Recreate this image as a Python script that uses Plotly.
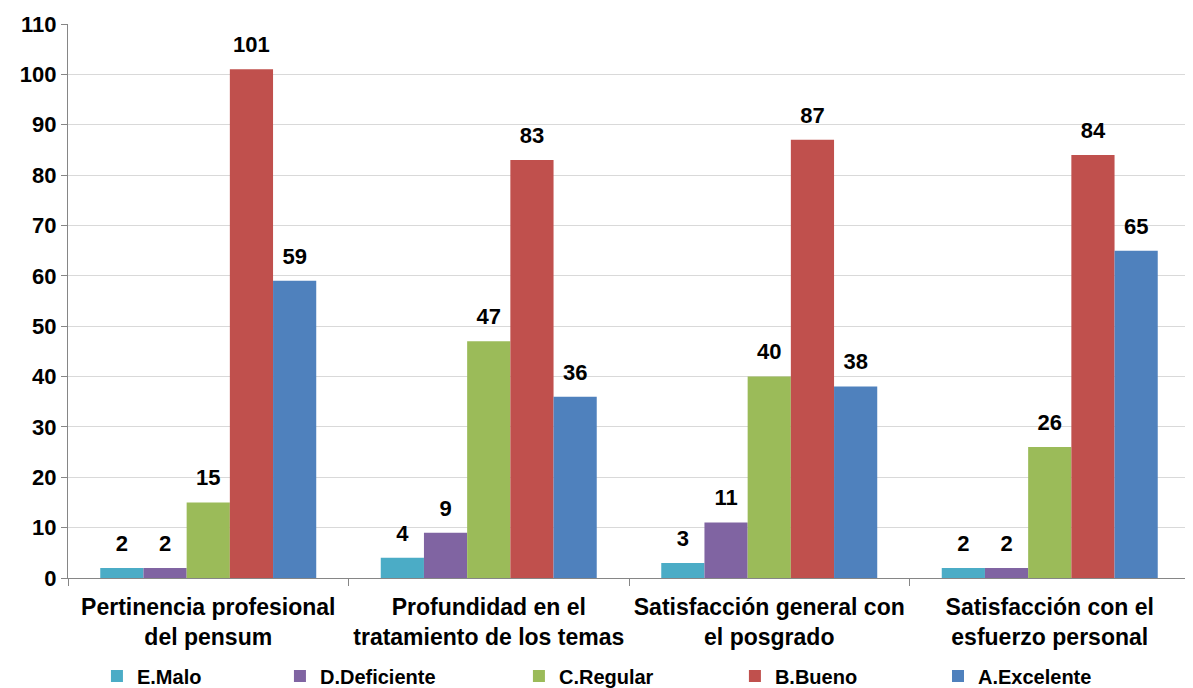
import plotly.graph_objects as go

categories = ["Pertinencia profesional<br>del pensum",
              "Profundidad en el<br>tratamiento de los temas",
              "Satisfacción general con<br>el posgrado",
              "Satisfacción con el<br>esfuerzo personal"]
series_names = ["E.Malo", "D.Deficiente", "C.Regular", "B.Bueno", "A.Excelente"]
e_malo = [2, 4, 3, 2]
d_deficiente = [2, 9, 11, 2]
c_regular = [15, 47, 40, 26]
b_bueno = [101, 83, 87, 84]
a_excelente = [59, 36, 38, 65]
colors = ["#4bacc6", "#8064a2", "#9bbb59", "#c0504d", "#4f81bd"]
y_ticks = list(range(0, 111, 10))
# horizontal anchor of each legend entry (fraction of plot width)
legend_x = [0.0258, 0.1889, 0.4019, 0.5944, 0.7754]

FONT = "Liberation Sans, Arial, sans-serif"

fig = go.Figure()
for i, (name, vals, col) in enumerate(zip(series_names,
                           [e_malo, d_deficiente, c_regular, b_bueno, a_excelente],
                           colors)):
    lg = "legend" if i == 0 else f"legend{i+1}"
    fig.add_trace(go.Bar(
        name=f"<b>{name}</b>", x=categories, y=vals, marker_color=col,
        marker_line_width=0, offsetgroup=name, alignmentgroup="g",
        legend=lg, hoverinfo="x+y+name",
    ))
    fig.add_trace(go.Scatter(
        x=categories, y=vals, mode="markers+text", offsetgroup=name, alignmentgroup="g",
        marker=dict(size=17, opacity=0, color=col),
        text=[f"<b>{v}</b>" for v in vals], textposition="top center",
        textfont=dict(family=FONT, size=22, color="black"),
        cliponaxis=False, showlegend=False, hoverinfo="skip",
    ))

legends = {}
for i, lx in enumerate(legend_x):
    key = "legend" if i == 0 else f"legend{i+1}"
    legends[key] = dict(orientation="h", x=lx, xanchor="left", y=-0.177, yanchor="middle",
                        font=dict(family=FONT, size=20, color="black"),
                        itemwidth=30, bgcolor="rgba(0,0,0,0)", borderwidth=0)

# page body has an 8px default margin, so the figure is sized to fit the window
fig.update_layout(
    width=1185, height=680,
    margin=dict(l=60, r=3, t=16, b=110, autoexpand=False),
    paper_bgcolor="white", plot_bgcolor="white",
    barmode="group", bargap=0.23, bargroupgap=0,
    scattermode="group", scattergap=0.23,
    font=dict(family=FONT, size=20, color="black"),
    showlegend=True,
    **legends,
)
fig.update_yaxes(range=[0, 110], tickvals=y_ticks,
                 ticktext=[f"<b>{t}</b>" for t in y_ticks],
                 tickfont=dict(family=FONT, size=22, color="black"),
                 showgrid=True, gridcolor="#d9d9d9", gridwidth=1.3,
                 showline=True, linecolor="#868686", linewidth=1.3,
                 ticks="outside", ticklen=6, tickcolor="#868686",
                 zeroline=False, automargin=False)
fig.update_xaxes(tickson="boundaries", ticks="outside", ticklen=7, tickcolor="#868686",
                 showline=True, linecolor="#868686", linewidth=1.3,
                 ticktext=[f"<b>{c}</b>" for c in categories], tickvals=categories,
                 tickfont=dict(family=FONT, size=23, color="black"),
                 ticklabelstandoff=8, automargin=False)

fig.write_html("out.html")
